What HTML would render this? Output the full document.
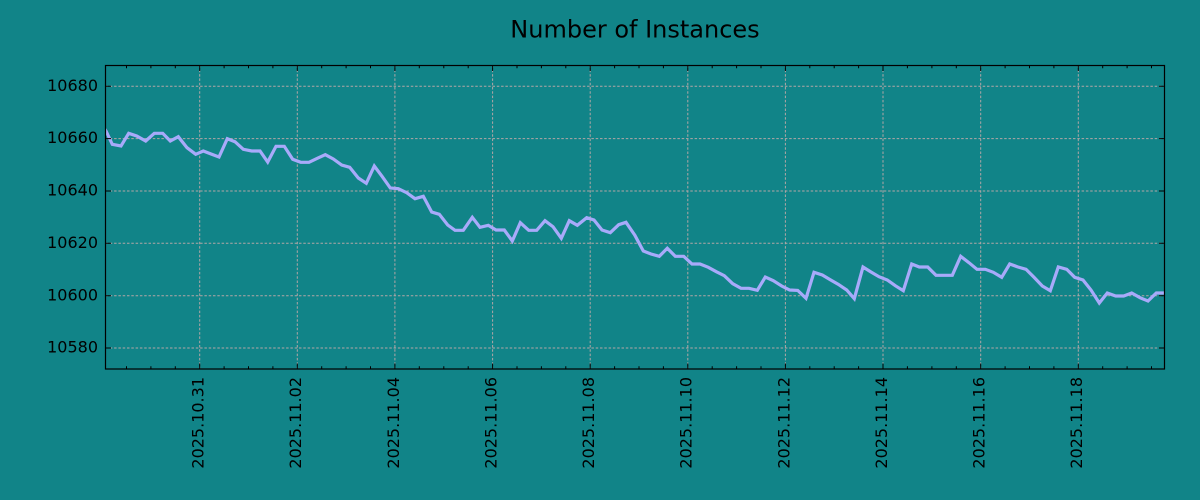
<!DOCTYPE html>
<html>
<head>
<meta charset="utf-8">
<style>
  html, body { margin: 0; padding: 0; background: #118488; }
  svg { display: block; }
  text { font-family: "DejaVu Sans", "Liberation Sans", sans-serif; fill: #000; }
</style>
</head>
<body>
<svg width="1200" height="500" viewBox="0 0 1200 500" xmlns="http://www.w3.org/2000/svg">
  <rect x="0" y="0" width="1200" height="500" fill="#118488"/>
  <defs>
    <clipPath id="plot"><rect x="105.5" y="65.5" width="1059" height="303.5"/></clipPath>
  </defs>

  <!-- grid -->
  <g stroke="#b3a6a6" stroke-width="1" stroke-dasharray="2.5,1.8" fill="none">
    <line x1="105.5" x2="1164.5" y1="348" y2="348"/>
    <line x1="105.5" x2="1164.5" y1="295.7" y2="295.7"/>
    <line x1="105.5" x2="1164.5" y1="243.3" y2="243.3"/>
    <line x1="105.5" x2="1164.5" y1="191" y2="191"/>
    <line x1="105.5" x2="1164.5" y1="138.6" y2="138.6"/>
    <line x1="105.5" x2="1164.5" y1="86.3" y2="86.3"/>
    <line y1="65.5" y2="369" x1="199.7" x2="199.7"/>
    <line y1="65.5" y2="369" x1="297.3" x2="297.3"/>
    <line y1="65.5" y2="369" x1="394.9" x2="394.9"/>
    <line y1="65.5" y2="369" x1="492.6" x2="492.6"/>
    <line y1="65.5" y2="369" x1="590.2" x2="590.2"/>
    <line y1="65.5" y2="369" x1="687.8" x2="687.8"/>
    <line y1="65.5" y2="369" x1="785.4" x2="785.4"/>
    <line y1="65.5" y2="369" x1="883.0" x2="883.0"/>
    <line y1="65.5" y2="369" x1="980.7" x2="980.7"/>
    <line y1="65.5" y2="369" x1="1078.3" x2="1078.3"/>
  </g>

  <!-- data line -->
  <polyline clip-path="url(#plot)" fill="none" stroke="#a8aafa" stroke-width="3.2" stroke-linejoin="miter" stroke-linecap="butt"
    points="104,128 106,131 112.3,144.3 121,146 128.7,133.3 136.7,136 145.7,141 154.3,133.3 162.7,133.3 170.3,141 178.3,136.7 187,147.7 195.7,154.3 203.3,151 211.7,154.3 219,157 227.3,138.7 235,141.7 243.3,149.3 251.7,151 260,151 267.7,162 276,146.3 284.3,146.3 292.7,159.3 300.7,162.3 309,162.3 317.3,158.3 325.3,154.7 333.3,159 341.7,165 349.7,167.3 358.3,178 366.3,183.3 374.3,166 382.3,176.7 390.3,188 398.3,188.7 406.7,192.7 415,198.7 423.3,196.3 431.7,212 439.3,214.3 447.7,225 455,230.3 463.3,230.3 472.3,217.3 480,227.3 488.3,225.3 496,230 504.3,230 512.3,241 520.3,222.7 528.7,230.3 536.7,230.3 545,220.7 553,226.7 561.3,238.3 569.3,220.7 577.3,225.3 586.7,217.7 594,220 602,230 610.3,232.7 618.7,224.7 626,222.3 634.7,235 643.3,251 651,254 659.3,256.3 667.3,248.3 675.3,256.3 683.7,256.3 692,264 700,264 708.3,267.3 716.3,271.7 724.3,275.7 732.7,283.7 741,288.3 749,288.3 757.3,290.3 765.3,277 773.3,280.7 781.7,286 789.7,290 797.7,290.4 806,298.3 814,272.3 822.3,275 830.7,280 838.3,284.3 846.7,290 854.3,298.7 863,267 871,272 879,276.7 887.3,280 895.3,285.7 903.3,290.7 911.7,264 919.3,267 927.7,267 936,275.3 944,275.3 952.3,275.3 960.7,256.3 969,262.7 977,269.3 985.3,269.3 993.3,272.3 1001.7,277.3 1009.7,264 1018,267 1026,269.3 1034,277.3 1042.3,286 1050.3,290.7 1058.3,267 1066.7,269.3 1074.7,277.3 1083,280 1091,290 1099.3,303 1107.3,293 1115.7,296 1123.7,296 1131.7,293 1140,297.7 1148,301 1156.3,293 1166,293"/>

  <!-- ticks -->
  <g stroke="#000" stroke-width="1" fill="none">
    <!-- y major left/right -->
    <path d="M105.5 348h5.5M105.5 295.7h5.5M105.5 243.3h5.5M105.5 191h5.5M105.5 138.6h5.5M105.5 86.3h5.5"/>
    <path d="M1164.5 348h-5.5M1164.5 295.7h-5.5M1164.5 243.3h-5.5M1164.5 191h-5.5M1164.5 138.6h-5.5M1164.5 86.3h-5.5"/>
    <!-- x major bottom/top -->
    <path d="M199.7 369v-5.5M297.3 369v-5.5M394.9 369v-5.5M492.6 369v-5.5M590.2 369v-5.5M687.8 369v-5.5M785.4 369v-5.5M883.0 369v-5.5M980.7 369v-5.5M1078.3 369v-5.5"/>
    <path d="M199.7 65.5v5.5M297.3 65.5v5.5M394.9 65.5v5.5M492.6 65.5v5.5M590.2 65.5v5.5M687.8 65.5v5.5M785.4 65.5v5.5M883.0 65.5v5.5M980.7 65.5v5.5M1078.3 65.5v5.5"/>
    <!-- x minor bottom -->
    <path d="M126.5 369v-2.8M150.9 369v-2.8M175.3 369v-2.8M224.1 369v-2.8M248.5 369v-2.8M272.9 369v-2.8M321.7 369v-2.8M346.1 369v-2.8M370.5 369v-2.8M419.3 369v-2.8M443.8 369v-2.8M468.2 369v-2.8M517.0 369v-2.8M541.4 369v-2.8M565.8 369v-2.8M614.6 369v-2.8M639.0 369v-2.8M663.4 369v-2.8M712.2 369v-2.8M736.6 369v-2.8M761.0 369v-2.8M809.8 369v-2.8M834.2 369v-2.8M858.6 369v-2.8M907.4 369v-2.8M931.9 369v-2.8M956.3 369v-2.8M1005.1 369v-2.8M1029.5 369v-2.8M1053.9 369v-2.8M1102.7 369v-2.8M1127.1 369v-2.8M1151.5 369v-2.8"/>
    <!-- x minor top -->
    <path d="M126.5 65.5v2.8M150.9 65.5v2.8M175.3 65.5v2.8M224.1 65.5v2.8M248.5 65.5v2.8M272.9 65.5v2.8M321.7 65.5v2.8M346.1 65.5v2.8M370.5 65.5v2.8M419.3 65.5v2.8M443.8 65.5v2.8M468.2 65.5v2.8M517.0 65.5v2.8M541.4 65.5v2.8M565.8 65.5v2.8M614.6 65.5v2.8M639.0 65.5v2.8M663.4 65.5v2.8M712.2 65.5v2.8M736.6 65.5v2.8M761.0 65.5v2.8M809.8 65.5v2.8M834.2 65.5v2.8M858.6 65.5v2.8M907.4 65.5v2.8M931.9 65.5v2.8M956.3 65.5v2.8M1005.1 65.5v2.8M1029.5 65.5v2.8M1053.9 65.5v2.8M1102.7 65.5v2.8M1127.1 65.5v2.8M1151.5 65.5v2.8"/>
  </g>

  <!-- frame -->
  <rect x="105.5" y="65.5" width="1059" height="303.5" fill="none" stroke="#000" stroke-width="1.2"/>

  <!-- title -->
  <text x="635" y="37.7" font-size="24" text-anchor="middle">Number of Instances</text>

  <!-- y labels -->
  <g font-size="16" text-anchor="end">
    <text x="98" y="352.6">10580</text>
    <text x="98" y="300.3">10600</text>
    <text x="98" y="247.9">10620</text>
    <text x="98" y="195.6">10640</text>
    <text x="98" y="143.2">10660</text>
    <text x="98" y="90.9">10680</text>
  </g>

  <!-- x labels -->
  <g font-size="16" text-anchor="end">
    <text transform="translate(203.6,377) rotate(-90)">2025.10.31</text>
    <text transform="translate(301.2,377) rotate(-90)">2025.11.02</text>
    <text transform="translate(398.8,377) rotate(-90)">2025.11.04</text>
    <text transform="translate(496.5,377) rotate(-90)">2025.11.06</text>
    <text transform="translate(594.1,377) rotate(-90)">2025.11.08</text>
    <text transform="translate(691.7,377) rotate(-90)">2025.11.10</text>
    <text transform="translate(789.3,377) rotate(-90)">2025.11.12</text>
    <text transform="translate(886.9,377) rotate(-90)">2025.11.14</text>
    <text transform="translate(984.6,377) rotate(-90)">2025.11.16</text>
    <text transform="translate(1082.2,377) rotate(-90)">2025.11.18</text>
  </g>
</svg>
</body>
</html>
